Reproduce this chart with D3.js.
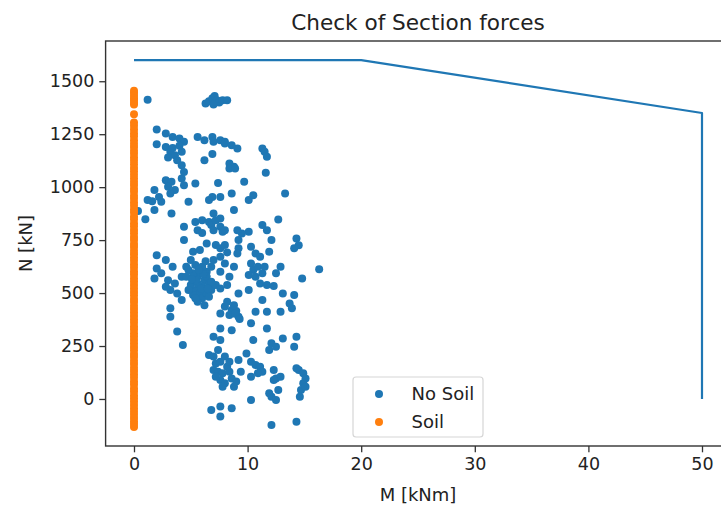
<!DOCTYPE html>
<html>
<head>
<meta charset="utf-8">
<script src="https://cdn.jsdelivr.net/npm/d3@7"></script>
<style>
  html, body { margin: 0; padding: 0; background: #fff; }
  svg { display: block; font-family: "DejaVu Sans", sans-serif; }
</style>
</head>
<body>
<svg id="chart" width="721" height="515"></svg>
<script>
// Interaction envelope of the section (M [kNm], N [kN])
const envelopeM = [0, 20, 50, 50];
const envelopeN = [1600, 1600, 1350, 0];

// Section forces without soil: [M, N]
const noSoil = [
  [1.2,1413],[6.3,1395],[6.6,1405],[6.9,1420],[7.1,1430],[7.3,1410],[7.5,1400],[7.8,1410],[8.2,1410],[7.0,1390],
  [2.0,1272],[2.8,1253],[3.4,1237],[4.0,1230],[4.4,1214],[2.0,1203],[2.8,1190],[3.2,1167],[3.6,1151],[4.2,1167],
  [3.8,1127],[4.2,1104],[5.6,1237],[6.2,1222],[6.9,1237],[7.0,1214],[7.6,1222],[8.0,1214],[8.0,1206],[8.6,1198],
  [9.1,1182],[6.9,1156],[6.2,1127],[8.4,1112],[8.8,1096],[8.4,1088],[8.9,1088],[11.3,1182],[11.5,1167],[11.7,1143],
  [11.6,1068],[3.0,1140],[3.4,1185],[4.0,1195],
  [2.8,1033],[3.3,1025],[3.0,1002],[3.6,986],[3.2,970],[4.2,1041],[4.4,1009],[5.4,1017],[4.4,1072],
  [1.8,986],[2.2,954],[1.2,939],[1.6,934],[2.4,931],[1.8,892],[0.35,888],[1.0,849],[3.3,876],
  [4.8,931],[6.6,939],[6.9,954],[7.4,1020],[7.6,954],[8.6,970],[9.7,1025],[10.1,939],[10.5,962],[13.3,970],
  [5.4,836],[6.0,844],[5.6,797],[6.0,783],[6.6,836],[6.8,821],[7.2,844],[7.0,797],[7.6,813],[7.8,789],
  [8.0,797],[8.8,892],[7.0,876],[7.6,852],[4.4,813],[4.4,750],[5.2,695],[5.8,703],[6.4,734],[7.2,727],
  [7.6,711],[8.0,727],[8.2,692],[9.2,750],[10.1,789],[10.3,719],[10.7,687],[9.2,711],[11.1,671],[11.3,821],
  [11.7,797],[12.1,750],[11.9,695],[12.7,847],[14.3,758],[14.5,726],[14.1,711],[9.1,687],[9.5,781],[9.1,797],
  [2.0,679],[2.8,656],[3.4,624],[2.0,616],[2.4,593],[1.8,569],[3.0,561],[3.6,545],[4.2,577],[3.2,514],
  [3.8,498],[4.2,467],[2.8,530],[4.6,624],[5.0,656],[5.4,632],[6.0,624],[6.4,601],[6.8,624],[5.6,577],
  [6.2,561],[6.6,538],[5.4,514],[5.8,498],[6.0,475],[6.8,514],[7.2,538],[5.2,491],[5.6,459],[6.2,443],
  [5.0,538],[6.4,577],[7.0,656],[7.6,671],[8.0,640],[7.6,601],[8.4,577],[8.2,538],[7.6,522],[8.8,624],
  [9.2,498],[10.1,514],[10.3,640],[10.5,609],[10.9,624],[11.3,593],[10.1,585],[10.7,577],[11.5,624],[11.1,545],
  [11.7,538],[12.5,593],[12.9,624],[12.3,533],[13.1,498],[14.1,491],[13.7,451],[13.9,428],[14.8,569],[16.3,612],
  [11.3,467],[5.2,593],[5.8,601],[6.0,530],[6.4,498],[6.6,483],[5.6,545],[6.2,514],[5.4,561],[6.8,553],
  [4.8,609],[4.6,577],[4.8,514],[5.4,475],[5.9,520],[6.1,590],[5.7,610],[6.5,520],[5.1,565],[6.3,650],
  [7.6,404],[8.0,436],[8.6,420],[8.4,396],[9.0,415],[9.2,388],[8.8,443],[8.2,459],[8.9,402],[9.3,378],
  [10.7,412],[11.7,412],[12.9,412],[10.3,357],[11.7,333],[3.2,428],[3.2,388],[3.8,318],[4.3,255],
  [7.6,333],[7.0,294],[8.6,325],[7.6,278],[10.5,278],[11.9,231],[12.1,263],[12.5,247],[13.1,286],[14.1,247],[14.3,294],
  [6.6,208],[7.0,200],[7.4,231],[7.2,168],[7.6,176],[8.0,200],[7.0,137],[7.4,129],[7.8,121],[8.2,152],
  [8.4,129],[7.6,90],[8.0,74],[8.6,97],[8.8,58],[9.0,82],[9.2,184],[9.4,129],[8.4,176],[7.8,58],
  [7.2,105],[9.9,215],[10.3,176],[10.7,160],[11.1,152],[11.3,129],[10.3,105],[10.9,121],
  [12.3,137],[12.5,97],[12.9,105],[12.3,90],[12.7,42],[12.1,11],[12.5,-5],[11.9,27],
  [14.5,137],[14.9,121],[15.1,97],[14.9,74],[14.7,42],[14.6,11],[14.3,145],[15.1,58],
  [6.8,-52],[7.6,-36],[7.6,-83],[8.6,-44],[10.3,-5],[12.1,-123],[14.3,-107]
];

// Section forces with soil: M stays at zero, N values
const soilN = [
  1455,1445,1432,1420,1410,1398,1390,1344,1305,1290,1272,1255,1240,1222,1205,1190,1172,1158,1140,1125,
  1108,1090,1075,1058,1042,1025,1010,992,978,960,945,928,912,895,880,862,848,830,815,798,
  782,765,750,732,718,700,685,668,652,635,620,602,588,570,555,538,522,505,490,472,
  458,440,425,408,392,375,360,342,328,310,295,278,262,245,230,212,198,180,165,148,
  132,115,100,82,68,50,35,18,4,-12,-28,-45,-60,-75,-90,-105,-118,-132
];
const soilM = soilN.map(() => 0);

const xTicks = [0, 10, 20, 30, 40, 50];
const yTicks = [0, 250, 500, 750, 1000, 1250, 1500];

const blue = "#1f77b4", orange = "#ff7f0e";
const dotR = 4;
const svg = d3.select("#chart");

const plotLeft = 105.6, plotRight = 730.4, plotTop = 41, plotBottom = 446;
const x = d3.scaleLinear().domain([-2.5, 52.5]).range([plotLeft, plotRight]);
const y = d3.scaleLinear().domain([-222, 1690]).range([plotBottom, plotTop]);

// envelope line
const line = d3.line().x((d, i) => x(envelopeM[i])).y((d, i) => y(envelopeN[i]));
svg.append("path")
  .datum(envelopeM)
  .attr("d", line)
  .attr("fill", "none")
  .attr("stroke", blue)
  .attr("stroke-width", 2.2)
  .attr("stroke-linejoin", "round");

// scatter series
svg.append("g").selectAll("circle").data(noSoil).join("circle")
  .attr("cx", d => x(d[0])).attr("cy", d => y(d[1])).attr("r", dotR).attr("fill", blue);

svg.append("g").selectAll("circle").data(soilN).join("circle")
  .attr("cx", (d, i) => x(soilM[i])).attr("cy", d => y(d)).attr("r", dotR).attr("fill", orange);

// axes
const xAxis = d3.axisBottom(x).tickValues(xTicks).tickFormat(d3.format("d")).tickSize(6.3).tickPadding(5);
const gx = svg.append("g").attr("transform", `translate(0,${plotBottom})`).call(xAxis);
const yAxis = d3.axisLeft(y).tickValues(yTicks).tickFormat(d3.format("d")).tickSize(6.3).tickPadding(5);
const gy = svg.append("g").attr("transform", `translate(${plotLeft},0)`).call(yAxis);
[gx, gy].forEach(g => {
  g.select(".domain").remove();
  g.selectAll(".tick line").attr("stroke", "#333").attr("stroke-width", 1.3);
  g.selectAll(".tick text").attr("fill", "#222").style("font-size", "17.5px")
    .style("font-family", "DejaVu Sans, sans-serif");
});

// frame
svg.append("rect")
  .attr("x", plotLeft).attr("y", plotTop)
  .attr("width", plotRight - plotLeft).attr("height", plotBottom - plotTop)
  .attr("fill", "none").attr("stroke", "#333").attr("stroke-width", 1.4);

// labels
svg.append("text").attr("x", (plotLeft + plotRight) / 2).attr("y", 30)
  .attr("text-anchor", "middle").style("font-size", "21.6px").attr("fill", "#222")
  .text("Check of Section forces");
svg.append("text").attr("x", (plotLeft + plotRight) / 2).attr("y", 501)
  .attr("text-anchor", "middle").style("font-size", "18px").attr("fill", "#222")
  .text("M [kNm]");
svg.append("text")
  .attr("transform", `translate(32,${(plotTop + plotBottom) / 2}) rotate(-90)`)
  .attr("text-anchor", "middle").style("font-size", "18px").attr("fill", "#222")
  .text("N [kN]");

// legend
const lg = svg.append("g");
lg.append("rect").attr("x", 353).attr("y", 377).attr("width", 130).attr("height", 60)
  .attr("rx", 3).attr("fill", "#fff").attr("fill-opacity", 0.8)
  .attr("stroke", "#d6d6d6").attr("stroke-width", 1.2);
const entries = [["No Soil", blue, 394], ["Soil", orange, 422]];
entries.forEach(([label, color, cy]) => {
  lg.append("circle").attr("cx", 379).attr("cy", cy).attr("r", dotR).attr("fill", color);
  lg.append("text").attr("x", 411.5).attr("y", cy + 6.3)
    .style("font-size", "18px").attr("fill", "#222").text(label);
});
</script>
</body>
</html>
